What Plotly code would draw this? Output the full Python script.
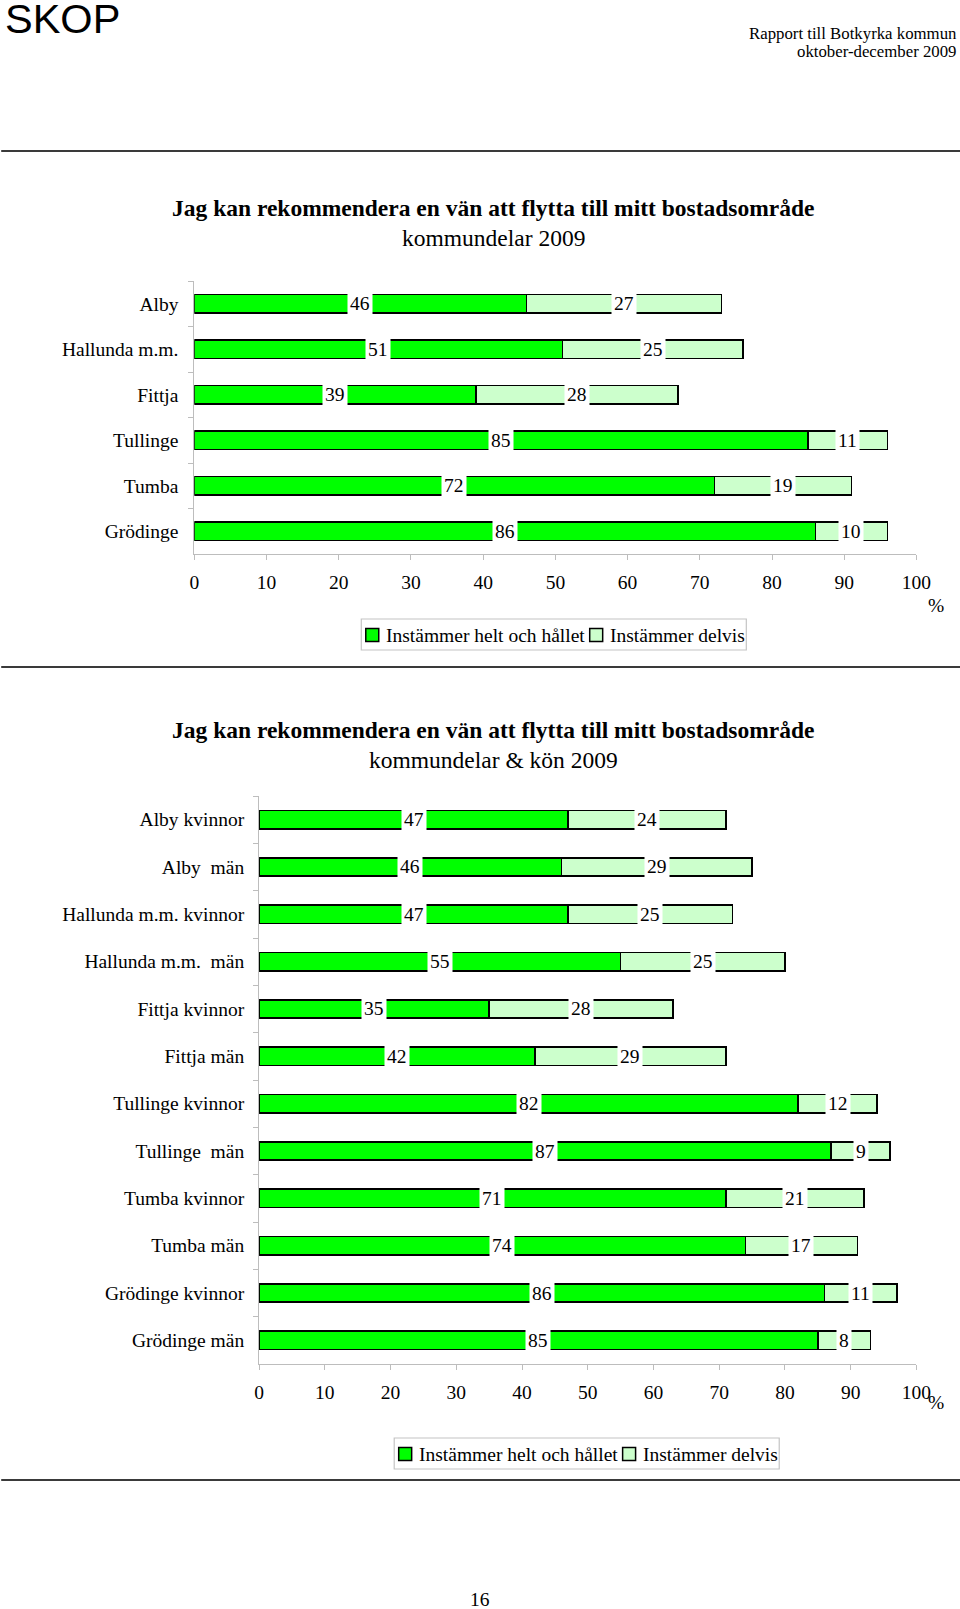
import plotly.graph_objects as go

# ---------------- data ----------------
cats1 = ["Alby", "Hallunda m.m.", "Fittja", "Tullinge", "Tumba", "Grödinge"]
helt1 = [46, 51, 39, 85, 72, 86]
delvis1 = [27, 25, 28, 11, 19, 10]

cats2 = ["Alby kvinnor", "Alby  män", "Hallunda m.m. kvinnor", "Hallunda m.m.  män",
         "Fittja kvinnor", "Fittja män", "Tullinge kvinnor", "Tullinge  män",
         "Tumba kvinnor", "Tumba män", "Grödinge kvinnor", "Grödinge män"]
helt2 = [47, 46, 47, 55, 35, 42, 82, 87, 71, 74, 86, 85]
delvis2 = [24, 29, 25, 25, 28, 29, 12, 9, 21, 17, 11, 8]

series_names = ["Instämmer helt och hållet", "Instämmer delvis"]
x_ticks = [0, 10, 20, 30, 40, 50, 60, 70, 80, 90, 100]

title_main = "Jag kan rekommendera en vän att flytta till mitt bostadsområde"
sub1 = "kommundelar 2009"
sub2 = "kommundelar &amp; kön 2009"

# ---------------- styling ----------------
W, H = 960, 1609
SERIF = "Liberation Serif, Times New Roman, serif"
SANS = "Liberation Sans, Arial, sans-serif"
GREEN = "#00FF00"
LIGHT = "#CCFFCC"
COLORS = [GREEN, LIGHT]
AXC = "#bdbdbd"
FS = 19.5
# horizontal calibration of the rendered page (paper x=0 -> OFFX px, width SX px)
OFFX, SX = 3.8, 942.4


def px(x):
    return (x - OFFX) / SX


def py(y):
    return 1 - y / H


fig = go.Figure()


def add_chart(cats, helt, delvis, xa, ya, width):
    for name, vals, col in [(series_names[0], helt, GREEN), (series_names[1], delvis, LIGHT)]:
        fig.add_trace(go.Bar(
            y=cats, x=vals, name=name, orientation="h", width=width,
            marker=dict(color=col, line=dict(color="black", width=1.5)),
            xaxis=xa, yaxis=ya, showlegend=False, hoverinfo="skip",
        ))
    # data labels centred on each segment
    for c, a, b in zip(cats, helt, delvis):
        for start, v in [(0, a), (a, b)]:
            fig.add_annotation(
                x=start + v / 2, y=c, xref=xa, yref=ya, text=str(v),
                showarrow=False, bgcolor="white", borderpad=2,
                font=dict(family=SERIF, size=FS, color="black"),
            )


add_chart(cats1, helt1, delvis1, "x", "y", 0.41)
add_chart(cats2, helt2, delvis2, "x2", "y2", 0.39)

xaxis_common = dict(
    range=[0, 100], tickvals=x_ticks, ticktext=[str(t) for t in x_ticks],
    showline=True, linecolor=AXC, linewidth=1, ticks="outside", tickcolor=AXC,
    ticklen=5, showgrid=False, zeroline=False, fixedrange=True,
    tickfont=dict(family=SERIF, size=FS, color="black"), ticklabelstandoff=6,
)
yaxis_common = dict(
    type="category", showline=True, linecolor=AXC, linewidth=1, ticks="outside",
    tickcolor=AXC, ticklen=5, tickson="boundaries", showgrid=False, zeroline=False,
    tickfont=dict(family=SERIF, size=FS, color="black"), fixedrange=True,
)

fig.update_layout(
    width=W, height=H, margin=dict(l=0, r=0, t=0, b=0), autosize=False,
    paper_bgcolor="white", plot_bgcolor="white",
    barmode="stack", showlegend=False,
    xaxis=dict(domain=[px(193.6), px(917.6)], anchor="y", **xaxis_common),
    yaxis=dict(domain=[py(554), py(281)], anchor="x", categoryarray=cats1,
               range=[len(cats1) - 0.5, -0.5], ticklabelstandoff=11, **yaxis_common),
    xaxis2=dict(domain=[px(258.5), px(917.6)], anchor="y2", **xaxis_common),
    yaxis2=dict(domain=[py(1364), py(796)], anchor="x2", categoryarray=cats2,
                range=[len(cats2) - 0.5, -0.5], ticklabelstandoff=10, **yaxis_common),
)


# ---------------- legends (box, swatches, labels) ----------------
def add_legend(left, top):
    fig.add_shape(type="rect", xref="paper", yref="paper",
                  x0=px(left), x1=px(left + 386), y0=py(top), y1=py(top + 31),
                  line=dict(color="#c4c4c4", width=1.2), fillcolor="white", layer="above")
    offs = [(4.5, 22.5), (229, 247)]
    for (icon_dx, text_dx), name, col in zip(offs, series_names, COLORS):
        fig.add_shape(type="rect", xref="paper", yref="paper",
                      x0=px(left + icon_dx), x1=px(left + icon_dx + 13),
                      y0=py(top + 9.5), y1=py(top + 22.5),
                      line=dict(color="black", width=1.5), fillcolor=col, layer="above")
        fig.add_annotation(x=px(left + text_dx), y=py(top + 16), xref="paper", yref="paper",
                           text=name, showarrow=False, xanchor="left", yanchor="middle",
                           font=dict(family=SERIF, size=FS, color="black"))


add_legend(361, 619)
add_legend(394, 1438)

# ---------------- page texts ----------------
texts = [
    dict(x=2, y=19, text="SKOP", font=dict(family=SANS, size=41.5), xanchor="left"),
    dict(x=960, y=33, text="Rapport till Botkyrka kommun", font=dict(family=SERIF, size=16.8), xanchor="right"),
    dict(x=960, y=51, text="oktober-december 2009", font=dict(family=SERIF, size=16.8), xanchor="right"),
    dict(x=494, y=208, text="<b>" + title_main + "</b>", font=dict(family=SERIF, size=23.5), xanchor="center"),
    dict(x=494, y=238, text=sub1, font=dict(family=SERIF, size=23.5), xanchor="center"),
    dict(x=937, y=606, text="%", font=dict(family=SERIF, size=FS), xanchor="center"),
    dict(x=494, y=730, text="<b>" + title_main + "</b>", font=dict(family=SERIF, size=23.5), xanchor="center"),
    dict(x=494, y=760, text=sub2, font=dict(family=SERIF, size=23.5), xanchor="center"),
    dict(x=937, y=1402, text="%", font=dict(family=SERIF, size=FS), xanchor="center"),
    dict(x=480, y=1599, text="16", font=dict(family=SERIF, size=FS), xanchor="center"),
]
for t in texts:
    f = dict(color="black")
    f.update(t["font"])
    fig.add_annotation(x=px(t["x"]), y=py(t["y"]), xref="paper", yref="paper",
                       text=t["text"], showarrow=False, xanchor=t["xanchor"],
                       yanchor="middle", font=f)

for ly in [151, 667, 1480]:
    fig.add_shape(type="line", xref="paper", yref="paper", x0=px(0), x1=px(962),
                  y0=py(ly), y1=py(ly), line=dict(color="#3a3a3a", width=2))

fig.write_html(
    "out.html",
    config={"responsive": False, "displayModeBar": False},
    post_script="document.documentElement.style.overflow='hidden';"
                "document.body.style.margin='0';document.body.style.overflow='hidden';",
)
